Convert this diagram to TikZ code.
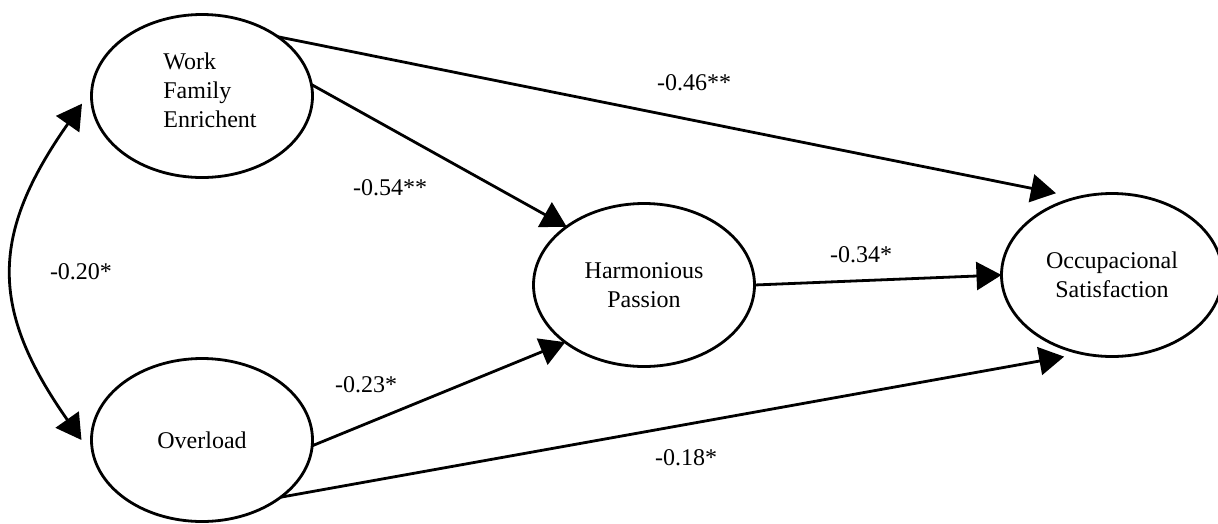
\documentclass[tikz,border=0pt]{standalone}
\usepackage{fontspec}
\setmainfont{Liberation Serif}
\usetikzlibrary{shapes.geometric,arrows.meta}
\begin{document}
\begin{tikzpicture}[x=1pt,y=-1pt,
  latent/.style={ellipse,draw,line width=2.8pt,minimum width=221pt,minimum height=163pt,
    inner sep=0pt,outer sep=0pt,font=\fontsize{24}{29}\selectfont,align=center},
  coef/.style={font=\fontsize{24}{29}\selectfont,inner sep=0pt},
  effect/.style={line width=2.8pt,-{Triangle[length=25pt,width=28pt]}},
  corr/.style={line width=2.8pt,{Triangle[length=25pt,width=28pt]}-{Triangle[length=25pt,width=28pt]}},
]
\useasboundingbox (0,0) rectangle (1218,523);
\node[latent,label={[align=left,font=\fontsize{24}{29}\selectfont,xshift=8pt,yshift=6pt]center:Work\\Family\\Enrichent}] (wfe) at (202,96) {};
\node[latent] (ov) at (202,440) {Overload};
\node[latent] (hp) at (644,285) {Harmonious\\Passion};
\node[latent] (os) at (1112,275) {Occupacional\\Satisfaction};

\draw[effect,shorten >=22pt] (wfe.38) -- (os.114);
\draw[effect] (wfe.6) -- (hp.143);
\draw[effect] (hp.0) -- (os.180);
\draw[effect] (ov.357) -- (hp.216);
\draw[effect,shorten >=18pt] (ov.324) -- (os.249);

\coordinate (ctop) at ([xshift=-10pt]wfe.184);
\coordinate (cbot) at ([xshift=-10pt]ov.west);
\draw[corr] (ctop) .. controls +(-92,131) and +(-92,-131) .. (cbot);

\node[coef] (c1) at (694,83) {-0.46**};
\node[coef] (c2) at (390,188) {-0.54**};
\node[coef] (c3) at (81,272) {-0.20*};
\node[coef] (c4) at (861,255) {-0.34*};
\node[coef] (c5) at (366,385) {-0.23*};
\node[coef] (c6) at (686,458) {-0.18*};
\end{tikzpicture}
\end{document}
